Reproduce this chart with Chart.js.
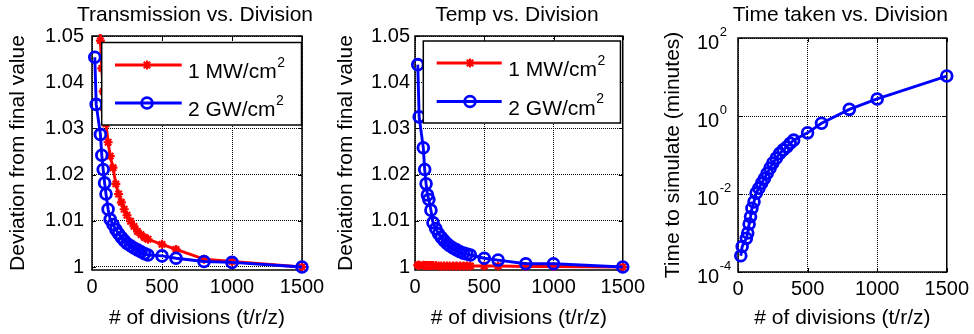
<!DOCTYPE html>
<html>
<head>
<meta charset="utf-8">
<script src="https://cdn.jsdelivr.net/npm/chart.js@4.4.1/dist/chart.umd.min.js"></script>
<style>
html,body{margin:0;padding:0;background:#fff;}
#wrap{position:relative;width:974px;height:334px;overflow:hidden;background:#fff;}
canvas{position:absolute;top:0;}
</style>
</head>
<body>
<div id="wrap">
  <canvas id="c1" width="330" height="334" style="left:0px"></canvas>
  <canvas id="c2" width="320" height="334" style="left:330px"></canvas>
  <canvas id="c3" width="324" height="334" style="left:650px"></canvas>
</div>
<script>
// ---------------- data ----------------
const divisions = [20, 30, 60, 70, 80, 90, 100, 115, 130, 150, 170, 190, 210, 230, 250, 275, 300, 325, 350, 375, 400, 500, 600, 800, 1000, 1500];

const transmission1MW = [1.100, 1.080, 1.049, 1.043, 1.038, 1.034, 1.031, 1.027, 1.024, 1.0215, 1.018, 1.0158, 1.014, 1.0125, 1.0112, 1.0099, 1.0088, 1.0077, 1.0070, 1.0064, 1.0060, 1.0049, 1.0038, 1.0017, 1.0012, 1.0000];
const transmission2GW = [1.0454, 1.0352, 1.0287, 1.0242, 1.0211, 1.0182, 1.0158, 1.0125, 1.0103, 1.0092, 1.0081, 1.0072, 1.0064, 1.0057, 1.0051, 1.0046, 1.0041, 1.0037, 1.0033, 1.0029, 1.0026, 1.0024, 1.0019, 1.0012, 1.0010, 1.0000];

const temp1MW = [1.0004, 1.0004, 1.0004, 1.0003, 1.0003, 1.0003, 1.0003, 1.0003, 1.0003, 1.0003, 1.0002, 1.0002, 1.0002, 1.0002, 1.0002, 1.0002, 1.0002, 1.0002, 1.0002, 1.0002, 1.0002, 1.0002, 1.0002, 1.0001, 1.0001, 1.0000];
const temp2GW = [1.0438, 1.0325, 1.0258, 1.0211, 1.0180, 1.0156, 1.0146, 1.0123, 1.0096, 1.0083, 1.0072, 1.0064, 1.0057, 1.0051, 1.0046, 1.0041, 1.0037, 1.0033, 1.0030, 1.0028, 1.0026, 1.0019, 1.0015, 1.0007, 1.0007, 1.0000];

const timeMinutes = [2.6e-4, 4.5e-4, 7.3e-4, 1.0e-3, 1.7e-3, 2.6e-3, 4.3e-3, 6.3e-3, 1.05e-2, 1.4e-2, 1.9e-2, 2.5e-2, 3.4e-2, 4.6e-2, 6.2e-2, 8.3e-2, 0.11, 0.135, 0.16, 0.2, 0.24, 0.37, 0.65, 1.48, 2.73, 10.6];

const xTickValues = [0, 500, 1000, 1500];
const xTickLabels = ['0', '500', '1000', '1500'];
const devTickValues = [1, 1.01, 1.02, 1.03, 1.04, 1.05];
const devTickLabels = ['1', '1.01', '1.02', '1.03', '1.04', '1.05'];
const logTickValues = [1e-4, 1e-2, 1, 1e2];

const legendBase = ['1 MW/cm', '2 GW/cm'];
const legendSup = ['2', '2'];

const titles = ['Transmission vs. Division', 'Temp vs. Division', 'Time taken vs. Division'];
const xTitle = '# of divisions (t/r/z)';
const yTitleDev = 'Deviation from final value';
const yTitleTime = 'Time to simulate (minutes)';

// ---------------- styling ----------------
const FONT = "'Liberation Sans', Arial, Helvetica, sans-serif";
Chart.defaults.font.family = FONT;
Chart.defaults.color = '#000';
const RED = '#ff0000', BLUE = '#0000ff';

function pts(xs, ys) { return xs.map((x, i) => ({x: x, y: ys[i]})); }

const mboxPlugin = {
  id: 'mbox',
  beforeDatasetsDraw(chart, args, o) {
    const {ctx, chartArea: a} = chart;
    ctx.save();
    ctx.strokeStyle = '#000';
    ctx.lineWidth = 1.5;
    ctx.strokeRect(a.left, a.top, a.right - a.left, a.bottom - a.top);
    ctx.lineWidth = 1;
    const tl = 4;
    ctx.beginPath();
    chart.scales.x.ticks.forEach(t => {
      const px = Math.round(chart.scales.x.getPixelForValue(t.value)) + 0.5;
      ctx.moveTo(px, a.bottom); ctx.lineTo(px, a.bottom - tl);
      ctx.moveTo(px, a.top); ctx.lineTo(px, a.top + tl);
    });
    chart.scales.y.ticks.forEach(t => {
      const py = Math.round(chart.scales.y.getPixelForValue(t.value)) + 0.5;
      ctx.moveTo(a.left, py); ctx.lineTo(a.left + tl, py);
      ctx.moveTo(a.right, py); ctx.lineTo(a.right - tl, py);
    });
    ctx.stroke();
    ctx.restore();
  },
  afterDatasetsDraw(chart, args, o) {
    if (!o || !o.legend) return;
    const L = o.legend;
    const {ctx, chartArea: a} = chart;
    const x1 = a.left + L.left, x2 = a.right - L.rightInset;
    const y1 = a.top + L.top, y2 = a.top + L.bottom;
    ctx.save();
    ctx.fillStyle = '#fff';
    ctx.fillRect(x1, y1, x2 - x1, y2 - y1);
    ctx.strokeStyle = '#000';
    ctx.lineWidth = 1.5;
    ctx.strokeRect(x1, y1, x2 - x1, y2 - y1);
    chart.data.datasets.forEach((ds, i) => {
      const y = a.top + L.rows[i];
      const lx1 = a.left + L.lx1, lx2 = a.left + L.lx2, mx = a.left + L.mx;
      ctx.strokeStyle = ds.borderColor;
      ctx.lineWidth = ds.borderWidth;
      ctx.beginPath(); ctx.moveTo(lx1, y); ctx.lineTo(lx2, y); ctx.stroke();
      ctx.lineWidth = ds.pointBorderWidth;
      const r = ds.pointRadius;
      ctx.beginPath();
      if (ds.pointStyle === 'circle') {
        ctx.arc(mx, y, r, 0, Math.PI * 2);
      } else {
        ctx.moveTo(mx - r, y); ctx.lineTo(mx + r, y);
        ctx.moveTo(mx, y - r); ctx.lineTo(mx, y + r);
        const d = r * Math.SQRT1_2;
        ctx.moveTo(mx - d, y - d); ctx.lineTo(mx + d, y + d);
        ctx.moveTo(mx - d, y + d); ctx.lineTo(mx + d, y - d);
      }
      ctx.stroke();
      ctx.fillStyle = '#000';
      ctx.textBaseline = 'alphabetic';
      ctx.textAlign = 'left';
      ctx.font = '21px ' + FONT;
      const tx = a.left + L.tx;
      ctx.fillText(legendBase[i], tx, y + 13);
      const w = ctx.measureText(legendBase[i]).width;
      ctx.font = '14px ' + FONT;
      ctx.fillText(legendSup[i], tx + w + 0.5, y + 1.5);
    });
    ctx.restore();
  },
  afterDraw(chart, args, o) {
    const {ctx, chartArea: a} = chart;
    ctx.save();
    ctx.fillStyle = '#000';
    if (o && o.title) {
      ctx.font = '21px ' + FONT;
      ctx.textAlign = 'center';
      ctx.textBaseline = 'middle';
      ctx.fillText(o.title, (a.left + a.right) / 2 - 2, 15.5);
    }
    if (o && o.logLabels) {
      const ys = chart.scales.y;
      ctx.textBaseline = 'alphabetic';
      ctx.textAlign = 'left';
      ys.ticks.forEach(t => {
        const py = ys.getPixelForValue(t.value);
        const e = Math.round(Math.log10(t.value));
        const x0 = a.left - 41;
        ctx.font = '20px ' + FONT;
        ctx.fillText('10', x0, py + 10.5);
        const w = ctx.measureText('10').width;
        ctx.font = '13px ' + FONT;
        ctx.fillText(String(e), x0 + w + 0.5, py - 2.5);
      });
    }
    ctx.restore();
  }
};

function lineDs(label, data, color, style, radius, pbw, order) {
  return {
    label: label, data: data, borderColor: color, backgroundColor: color,
    borderWidth: 2.9, pointStyle: style, pointRadius: radius, pointBorderWidth: pbw,
    pointBackgroundColor: style === 'circle' ? 'rgba(0,0,0,0)' : color,
    pointBorderColor: color, tension: 0, order: order,
    clip: {left: 12, top: 2, right: 12, bottom: 12}
  };
}

function xScale(h, pad) {
  return {
    type: 'linear', min: 0, max: 1500,
    afterBuildTicks: s => { s.ticks = xTickValues.map(v => ({value: v})); },
    afterFit: s => { s.height = h; },
    grid: {color: '#000', lineWidth: 1, drawTicks: false},
    border: {display: false, dash: [1, 1]},
    ticks: {font: {size: 20}, color: '#000', padding: pad, maxRotation: 0, autoSkip: false,
            callback: v => xTickLabels[xTickValues.indexOf(v)]},
    title: {display: true, text: xTitle, font: {size: 21}, color: '#000', padding: {top: 0, bottom: 3}}
  };
}

function devChart(id, title, mw, gw, g) {
  return new Chart(document.getElementById(id), {
    type: 'line',
    data: {
      datasets: [
        lineDs(legendBase[0], pts(divisions, mw), RED, 'star', 4.5, 2.2, 2),
        lineDs(legendBase[1], pts(divisions, gw), BLUE, 'circle', 5.4, 2.8, 1)
      ]
    },
    plugins: [mboxPlugin],
    options: {
      responsive: false, animation: false, devicePixelRatio: 1,
      layout: {padding: {left: 0, right: g.padRight, top: 36, bottom: 0}},
      plugins: {
        legend: {display: false}, tooltip: {enabled: false}, title: {display: false},
        mbox: {legend: g.legend, title: title}
      },
      scales: {
        x: xScale(g.xH, 5),
        y: {
          type: 'linear', min: 0.99935, max: 1.05,
          afterBuildTicks: s => { s.ticks = devTickValues.map(v => ({value: v})); },
          afterFit: s => { s.width = g.yW; },
          grid: {color: '#000', lineWidth: 1, drawTicks: false},
          border: {display: false, dash: [1, 1]},
          ticks: {font: {size: 20}, color: '#000', padding: g.yPad, autoSkip: false,
                  callback: v => devTickLabels[devTickValues.indexOf(v)]},
          title: {display: true, text: yTitleDev, font: {size: 21}, color: '#000', padding: {top: g.yTitlePad, bottom: 0}}
        }
      }
    }
  });
}

devChart('c1', titles[0], transmission1MW, transmission2GW, {
  padRight: 28, xH: 64, yW: 92, yPad: 8, yTitlePad: 6,
  legend: {left: 9.7, rightInset: 0.5, top: 6.5, bottom: 89, rows: [29, 67], lx1: 23, lx2: 89.7, mx: 55, tx: 96}
});
devChart('c2', titles[1], temp1MW, temp2GW, {
  padRight: 26, xH: 64, yW: 85, yPad: 5, yTitlePad: 3.5,
  legend: {left: 8.3, rightInset: 2.3, top: 5, bottom: 87, rows: [27, 65.5], lx1: 21.7, lx2: 86.7, mx: 55, tx: 93.3}
});

new Chart(document.getElementById('c3'), {
  type: 'line',
  data: {
    datasets: [lineDs('time', pts(divisions, timeMinutes), BLUE, 'circle', 5.4, 2.8, 1)]
  },
  plugins: [mboxPlugin],
  options: {
    responsive: false, animation: false, devicePixelRatio: 1,
    layout: {padding: {left: 0, right: 26, top: 38, bottom: 0}},
    plugins: {
      legend: {display: false}, tooltip: {enabled: false}, title: {display: false},
      mbox: {logLabels: true, title: titles[2]}
    },
    scales: {
      x: xScale(62, 5),
      y: {
        type: 'logarithmic', min: 1e-4, max: 1e2,
        afterBuildTicks: s => { s.ticks = logTickValues.map(v => ({value: v})); },
        afterFit: s => { s.width = 88; },
        grid: {color: '#000', lineWidth: 1, drawTicks: false},
        border: {display: false, dash: [1, 1]},
        ticks: {display: false},
        title: {display: true, text: yTitleTime, font: {size: 21}, color: '#000', padding: {top: 10.4, bottom: 0}}
      }
    }
  }
});
</script>
</body>
</html>
